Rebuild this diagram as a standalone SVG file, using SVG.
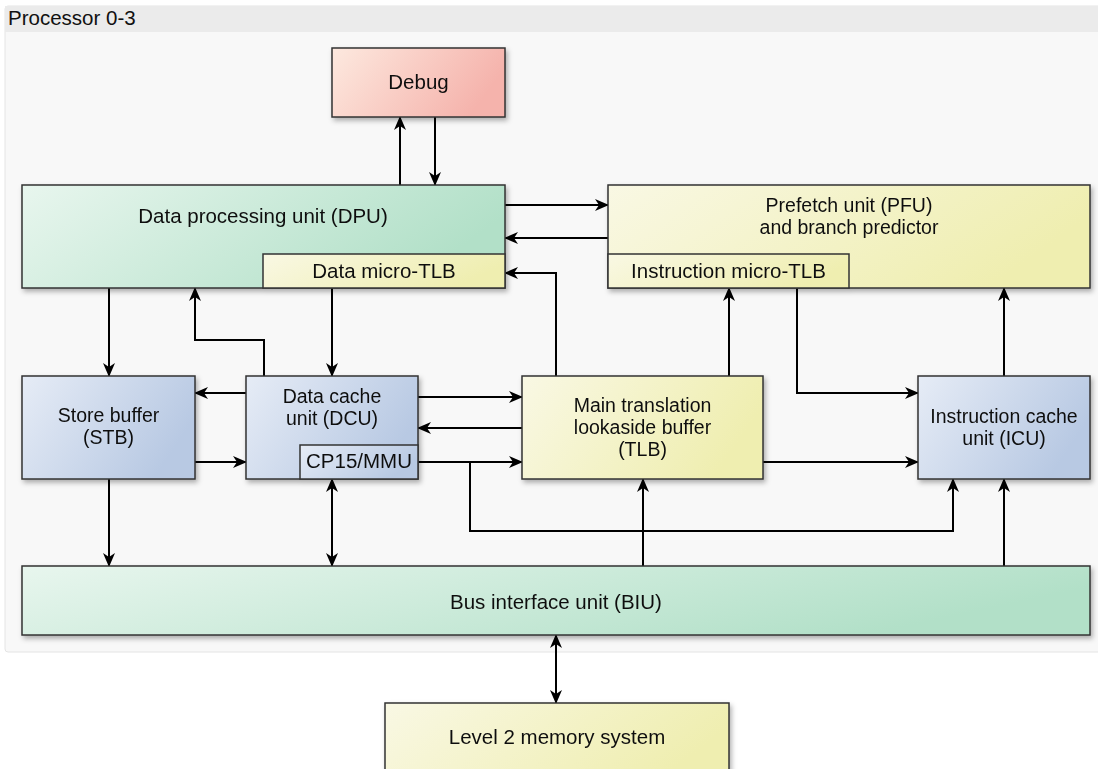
<svg xmlns="http://www.w3.org/2000/svg" width="1098" height="769" viewBox="0 0 1098 769">
  <defs>
    <linearGradient id="gRed" x1="0" y1="0" x2="1" y2="0.3">
      <stop offset="0" stop-color="#fde9df"/>
      <stop offset="1" stop-color="#f5b3ac"/>
    </linearGradient>
    <linearGradient id="gGreen" x1="0" y1="0" x2="1" y2="0.3">
      <stop offset="0" stop-color="#e8f6ee"/>
      <stop offset="1" stop-color="#b2e0c8"/>
    </linearGradient>
    <linearGradient id="gYellow" x1="0" y1="0" x2="1" y2="0.3">
      <stop offset="0" stop-color="#f9f8e4"/>
      <stop offset="1" stop-color="#efeeb0"/>
    </linearGradient>
    <linearGradient id="gBlue" x1="0" y1="0" x2="1" y2="0.4">
      <stop offset="0" stop-color="#e6ecf6"/>
      <stop offset="1" stop-color="#b8c9e3"/>
    </linearGradient>
    <filter id="shadow" x="-10%" y="-10%" width="130%" height="140%">
      <feDropShadow dx="2" dy="3" stdDeviation="2.5" flood-color="#000" flood-opacity="0.3"/>
    </filter>
    <marker id="arrow" viewBox="0 0 14 12" refX="13" refY="6" markerWidth="14" markerHeight="12" markerUnits="userSpaceOnUse" orient="auto-start-reverse">
      <path d="M0,0 L14,6 L0,12 L4,6 z" fill="#000"/>
    </marker>
    <style>
      .box { stroke: #333; stroke-width: 1.5; }
      .sub { stroke: #333; stroke-width: 1.5; }
      .lbl { font-family: "Liberation Sans", Arial, sans-serif; font-size: 20.5px; fill: #111; text-anchor: middle; }
      .ml { font-size: 19.5px; }
      .title { font-family: "Liberation Sans", Arial, sans-serif; font-size: 20.5px; fill: #111; }
      .wire { fill: none; stroke: #000; stroke-width: 2; marker-end: url(#arrow); }
      .both { marker-start: url(#arrow); }
    </style>
  </defs>

  <rect width="1098" height="769" fill="#ffffff"/>

  <!-- processor cluster frame -->
  <g id="processor">
    <rect x="5" y="6" width="1100" height="646" rx="3" fill="#f8f8f8" stroke="#e4e4e4" stroke-width="1"/>
    <rect x="5" y="6" width="1100" height="26" fill="#ebebeb"/>
    <text class="title" x="8" y="25">Processor 0-3</text>
  </g>

  <!-- connectors -->
  <g id="connectors">
    <path class="wire" d="M400,185 V117"/>
    <path class="wire" d="M435,117 V185"/>
    <path class="wire" d="M505,205 H608"/>
    <path class="wire" d="M608,238 H505"/>
    <path class="wire" d="M556,376 V273 H505"/>
    <path class="wire" d="M729,376 V288"/>
    <path class="wire" d="M797,288 V393 H918"/>
    <path class="wire" d="M1004,376 V288"/>
    <path class="wire" d="M109,288 V376"/>
    <path class="wire" d="M264,376 V340 H195 V288"/>
    <path class="wire" d="M332,288 V376"/>
    <path class="wire" d="M246,393 H195"/>
    <path class="wire" d="M195,462 H246"/>
    <path class="wire" d="M418,397 H522"/>
    <path class="wire" d="M522,428 H418"/>
    <path class="wire" d="M418,462 H522"/>
    <path class="wire" d="M470,462 V531 H953 V479"/>
    <path class="wire" d="M763,462 H918"/>
    <path class="wire" d="M109,479 V566"/>
    <path class="wire both" d="M332,479 V566"/>
    <path class="wire" d="M643,566 V479"/>
    <path class="wire" d="M1004,566 V479"/>
    <path class="wire both" d="M556,635 V703"/>
  </g>

  <g id="debug" filter="url(#shadow)">
    <rect class="box" x="332" y="48" width="173" height="69" fill="url(#gRed)"/>
    <text class="lbl" x="418.5" y="89">Debug</text>
  </g>

  <g id="dpu" filter="url(#shadow)">
    <rect class="box" x="22" y="185" width="483" height="103" fill="url(#gGreen)"/>
    <text class="lbl" x="263" y="223">Data processing unit (DPU)</text>
    <rect class="sub" x="263" y="254" width="242" height="34" fill="url(#gYellow)"/>
    <text class="lbl" x="384" y="278">Data micro-TLB</text>
  </g>

  <g id="pfu" filter="url(#shadow)">
    <rect class="box" x="608" y="185" width="482" height="103" fill="url(#gYellow)"/>
    <text class="lbl ml" x="849" y="212">Prefetch unit (PFU)<tspan x="849" dy="22">and branch predictor</tspan></text>
    <rect class="sub" x="608" y="254" width="241" height="34" fill="url(#gYellow)"/>
    <text class="lbl" x="728.5" y="278">Instruction micro-TLB</text>
  </g>

  <g id="stb" filter="url(#shadow)">
    <rect class="box" x="22" y="376" width="173" height="103" fill="url(#gBlue)"/>
    <text class="lbl ml" x="108.5" y="422">Store buffer<tspan x="108.5" dy="22">(STB)</tspan></text>
  </g>

  <g id="dcu" filter="url(#shadow)">
    <rect class="box" x="246" y="376" width="172" height="103" fill="url(#gBlue)"/>
    <text class="lbl ml" x="332" y="403">Data cache<tspan x="332" dy="22">unit (DCU)</tspan></text>
    <rect class="sub" x="300" y="445" width="118" height="34" fill="url(#gBlue)"/>
    <text class="lbl" x="359" y="468">CP15/MMU</text>
  </g>

  <g id="tlb" filter="url(#shadow)">
    <rect class="box" x="522" y="376" width="241" height="103" fill="url(#gYellow)"/>
    <text class="lbl ml" x="642.5" y="412">Main translation<tspan x="642.5" dy="22">lookaside buffer</tspan><tspan x="642.5" dy="22">(TLB)</tspan></text>
  </g>

  <g id="icu" filter="url(#shadow)">
    <rect class="box" x="918" y="376" width="172" height="103" fill="url(#gBlue)"/>
    <text class="lbl ml" x="1004" y="423">Instruction cache<tspan x="1004" dy="22">unit (ICU)</tspan></text>
  </g>

  <g id="biu" filter="url(#shadow)">
    <rect class="box" x="22" y="566" width="1068" height="69" fill="url(#gGreen)"/>
    <text class="lbl" x="556" y="609">Bus interface unit (BIU)</text>
  </g>

  <g id="l2" filter="url(#shadow)">
    <rect class="box" x="385" y="703" width="344" height="80" fill="url(#gYellow)"/>
    <text class="lbl" x="557" y="744">Level 2 memory system</text>
  </g>
</svg>
